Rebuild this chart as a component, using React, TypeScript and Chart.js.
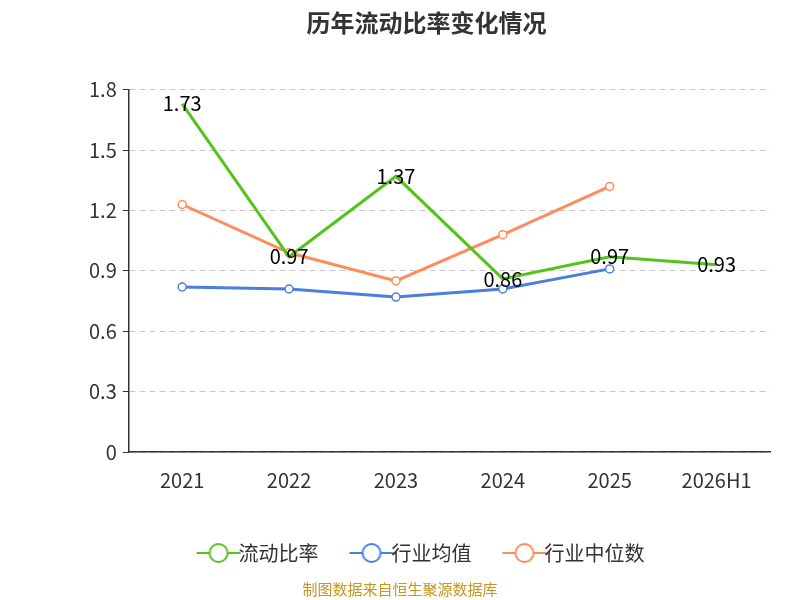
import React, { useEffect, useRef } from "react";
import { Chart, registerables } from "chart.js";
Chart.register(...registerables);

const categories = ["2021", "2022", "2023", "2024", "2025", "2026H1"];
const currentRatio = [1.73, 0.97, 1.37, 0.86, 0.97, 0.93];
const industryAvg = [0.82, 0.81, 0.77, 0.81, 0.91, null];
const industryMedian = [1.23, 0.99, 0.85, 1.08, 1.32, null];
const yTicks = [0, 0.3, 0.6, 0.9, 1.2, 1.5, 1.8];

const GREEN = "#52c41a";
const BLUE = "#4a7fe0";
const ORANGE = "#ff8c5a";
const FONT = "'Noto Sans CJK SC', 'Noto Sans', sans-serif";

function legendIcon(color: string) {
  const c = document.createElement("canvas");
  c.width = 48; c.height = 24;
  const g = c.getContext("2d")!;
  g.strokeStyle = color; g.lineWidth = 2;
  g.beginPath(); g.moveTo(2, 12); g.lineTo(46, 12); g.stroke();
  g.fillStyle = "#fff";
  g.beginPath(); g.arc(24, 12, 9, 0, Math.PI * 2); g.fill(); g.stroke();
  return c;
}

export default function App() {
  const ref = useRef<HTMLCanvasElement>(null);
  useEffect(() => {
    const labelPlugin = {
      id: "labels",
      afterDatasetsDraw(chart: any) {
        const ctx = chart.ctx;
        const meta = chart.getDatasetMeta(0);
        ctx.save();
        ctx.font = `20px ${FONT}`;
        ctx.fillStyle = "#000";
        ctx.textAlign = "center";
        ctx.textBaseline = "middle";
        meta.data.forEach((p: any, i: number) => {
          ctx.fillText(currentRatio[i].toFixed(2), p.x, p.y);
        });
        ctx.fillStyle = "#c8961e";
        ctx.font = `15px ${FONT}`;
        ctx.fillText("制图数据来自恒生聚源数据库", 400, 589);
        ctx.restore();
      },
    };
    const ds = (label: string, data: any[], color: string, radius: number) => ({
      label, data, borderColor: color, backgroundColor: "#fff",
      borderWidth: 3, pointRadius: radius, pointBorderWidth: 1.5,
      pointBorderColor: color, pointBackgroundColor: "#fff", tension: 0,
    });
    const chart = new Chart(ref.current!, {
      type: "line",
      data: {
        labels: categories,
        datasets: [
          ds("流动比率", currentRatio, GREEN, 0),
          ds("行业均值", industryAvg, BLUE, 4),
          ds("行业中位数", industryMedian, ORANGE, 4),
        ],
      },
      options: {
        animation: false,
        responsive: false,
        layout: { padding: { left: 83, right: 30, bottom: 27, top: 0 } },
        plugins: {
          title: {
            display: true, text: "历年流动比率变化情况", color: "#333",
            font: { size: 24, weight: "bold", family: FONT },
            padding: { top: 8, bottom: 53 },
          },
          legend: {
            position: "bottom",
            labels: {
              font: { size: 20, family: FONT }, color: "#333",
              usePointStyle: true, padding: 43,
              generateLabels: (chart: any) =>
                chart.data.datasets.map((d: any, i: number) => ({
                  text: d.label, pointStyle: legendIcon(d.borderColor),
                  fontColor: "#333", datasetIndex: i, lineWidth: 0, strokeStyle: "transparent", fillStyle: "transparent",
                })),
            },
          },
          tooltip: { enabled: false },
        },
        scales: {
          x: {
            offset: true,
            grid: { display: false, offset: true } as any,
            border: { color: "#333", width: 1.5 },
            ticks: { color: "#333", font: { size: 20, family: FONT }, padding: 8 },
          },
          y: {
            min: 0, max: 1.8,
            afterBuildTicks: (s: any) => { s.ticks = yTicks.map((v) => ({ value: v })); },
            grid: { color: "#c8c8c8", tickLength: 6, tickColor: "#333" } as any,
            border: { color: "#333", width: 1.5, dash: [6, 4] } as any,
            ticks: {
              color: "#333", font: { size: 20, family: FONT }, padding: 6,
              callback: (v: any) => (v === 0 ? "0" : Number(v).toFixed(1)),
            },
          },
        },
      },
      plugins: [labelPlugin],
    });
    return () => chart.destroy();
  }, []);
  return (
    <div style={{ position: "absolute", left: 0, top: 0, width: 800, height: 600, background: "#fff" }}>
      <canvas ref={ref} width={800} height={600} />
    </div>
  );
}
